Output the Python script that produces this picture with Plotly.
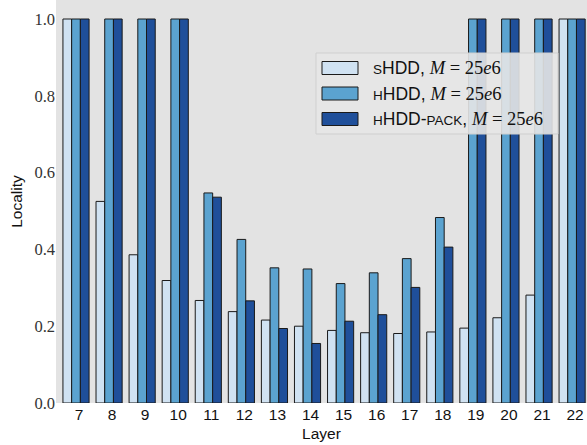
import plotly.graph_objects as go

layers = [str(v) for v in range(7, 23)]
shdd = [1.0, 0.525, 0.386, 0.319, 0.267, 0.238, 0.216, 0.200, 0.189, 0.183, 0.181, 0.185, 0.195, 0.222, 0.281, 1.0]
hhdd = [1.0, 1.0, 1.0, 1.0, 0.547, 0.426, 0.352, 0.349, 0.311, 0.339, 0.376, 0.483, 1.0, 1.0, 1.0, 1.0]
hhdd_pack = [1.0, 1.0, 1.0, 1.0, 0.536, 0.266, 0.194, 0.155, 0.213, 0.230, 0.301, 0.406, 1.0, 1.0, 1.0, 1.0]

math = "<span style='font-family:\"Liberation Serif\";font-size:18.5px'><i>M</i> = 25<i>e</i>6</span>"
sc = "<span style='font-size:13.5px'>{}</span>"
series_names = [
    sc.format("S") + "HDD, " + math,
    sc.format("H") + "HDD, " + math,
    sc.format("H") + "HDD-" + sc.format("PACK") + ", " + math,
]
colors = ["#d0e2f2", "#5ba3d0", "#1f4f9a"]

W, H = 587, 445
ML, MR, MT, MB = 56, 0, 0, 42
PW, PH = W - ML - MR, H - MT - MB

def px(p):
    return (p - ML) / PW

def py(p):
    return 1 - (p - MT) / PH

xs = list(range(len(layers)))
fig = go.Figure()
for name, vals, col in zip(series_names, [shdd, hhdd, hhdd_pack], colors):
    fig.add_trace(go.Bar(
        x=xs, y=vals, name=name,
        marker=dict(color=col, line=dict(color="#1a1a1a", width=1)),
    ))

# legend drawn as shapes + annotations (wide swatches like the reference)
shapes = [dict(type="rect", xref="paper", yref="paper",
               x0=px(316), x1=px(558), y0=py(134), y1=py(53),
               fillcolor="rgba(229,229,229,0.9)", line=dict(color="#cfcfcf", width=1), layer="above")]
annotations = []
row_centers = [68, 93.5, 119]
for name, col, yc in zip(series_names, colors, row_centers):
    shapes.append(dict(type="rect", xref="paper", yref="paper",
                       x0=px(322), x1=px(358), y0=py(yc + 6.5), y1=py(yc - 6.5),
                       fillcolor=col, line=dict(color="#1a1a1a", width=1), layer="above"))
    annotations.append(dict(xref="paper", yref="paper", x=px(371), y=py(yc),
                            xanchor="left", yanchor="middle", showarrow=False,
                            text=name, font=dict(family="Liberation Sans", size=17.5, color="#111")))

fig.update_layout(
    width=W, height=H,
    margin=dict(l=ML, r=MR, t=MT, b=MB),
    paper_bgcolor="white", plot_bgcolor="#e3e3e3",
    barmode="group", bargap=0.21, bargroupgap=0,
    font=dict(family="Liberation Sans", size=15, color="#111"),
    showlegend=False,
    shapes=shapes,
    annotations=annotations,
    xaxis=dict(
        range=[-0.605, 15.45],
        tickmode="array",
        tickvals=[x + 0.09 for x in xs],
        ticktext=layers,
        showgrid=False, zeroline=False, ticks="",
        tickfont=dict(family="Liberation Sans", size=15.5),
        title=dict(text="Layer", font=dict(size=15.5), standoff=6),
    ),
    yaxis=dict(
        range=[0, PH / 384],
        tickmode="array",
        tickvals=[0, 0.2, 0.4, 0.6, 0.8, 1.0],
        ticktext=["0.0", "0.2", "0.4", "0.6", "0.8", "1.0"],
        showgrid=False, zeroline=False, ticks="",
        tickfont=dict(family="Liberation Serif", size=16.5, color="#333"),
        title=dict(text="Locality", font=dict(size=15.5), standoff=7),
    ),
)

fig.write_html("out.html")
